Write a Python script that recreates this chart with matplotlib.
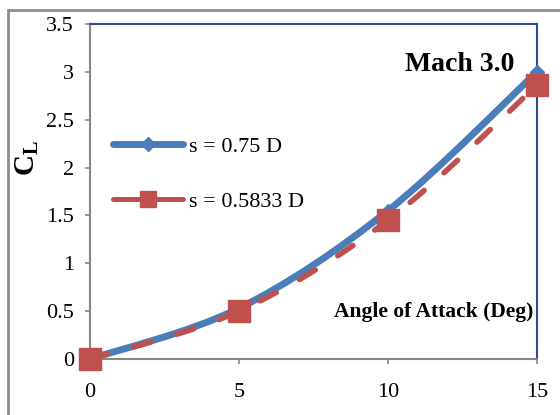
import matplotlib.pyplot as plt
from matplotlib.path import Path
from matplotlib.patches import PathPatch, Rectangle
from matplotlib.lines import Line2D

# Coeficiente de sustentación vs ángulo de ataque (Mach 3.0)
angulos = [0, 5, 10, 15]
cl_075 = [0.0, 0.53, 1.55, 3.0]
cl_05833 = [0.0, 0.5, 1.45, 2.86]

azul = '#4a7ebb'
rojo = '#c0504d'
gris = '#868686'
plt.rcParams['font.family'] = ['Liberation Serif', 'DejaVu Serif']


# Curva suavizada tipo Excel (Bezier por tramos)
def curva_suave(xs, ys):
    pts = list(zip(xs, ys))
    n = len(pts)
    verts = [pts[0]]
    codes = [Path.MOVETO]
    for i in range(n - 1):
        p0 = pts[max(i - 1, 0)]
        p1 = pts[i]
        p2 = pts[i + 1]
        p3 = pts[min(i + 2, n - 1)]
        c1 = (p1[0] + (p2[0] - p0[0]) / 6, p1[1] + (p2[1] - p0[1]) / 6)
        c2 = (p2[0] - (p3[0] - p1[0]) / 6, p2[1] - (p3[1] - p1[1]) / 6)
        verts += [c1, c2, p2]
        codes += [Path.CURVE4] * 3
    return Path(verts, codes)


fig = plt.figure(figsize=(5.6, 4.15), dpi=100)
fig.patches.append(Rectangle((8 / 560, -0.1), 1.1, (415 - 10) / 415 + 0.1,
                             transform=fig.transFigure, fill=False,
                             edgecolor='#8c8c8c', linewidth=2))
ax = fig.add_axes([90 / 560, 56 / 415, 447 / 560, 335 / 415])

ax.add_patch(PathPatch(curva_suave(angulos, cl_075), fill=False, edgecolor=azul,
                       linewidth=5, capstyle='round', zorder=2))
ax.plot(angulos, cl_075, linestyle='none', marker='D', markersize=7,
        color=azul, clip_on=False, zorder=3)

ax.add_patch(PathPatch(curva_suave(angulos, cl_05833), fill=False, edgecolor=rojo,
                       linewidth=4, linestyle=(0, (3.3, 4.8)), capstyle='round',
                       zorder=4))
ax.plot(angulos, cl_05833, linestyle='none', marker='s', markersize=16.5,
        color=rojo, clip_on=False, zorder=5)

ax.set_xlim(0, 15)
ax.set_ylim(0, 3.5)
ax.set_xticks([0, 5, 10, 15])
ax.set_yticks([0, 0.5, 1, 1.5, 2, 2.5, 3, 3.5])
ax.set_yticklabels(['0', '0.5', '1', '1.5', '2', '2.5', '3', '3.5'])
ax.tick_params(direction='out', length=3.6, width=1.2, color=gris, labelsize=16)
ax.tick_params(axis='y', pad=8)
ax.tick_params(axis='x', pad=14)

for lado in ['left', 'bottom']:
    ax.spines[lado].set_color(gris)
    ax.spines[lado].set_linewidth(1.5)
for lado in ['top', 'right']:
    ax.spines[lado].set_color('#2a4f8a')
    ax.spines[lado].set_linewidth(1.5)

fig.text(27 / 560, 1 - 158 / 415, r'C$_\mathregular{L}$', rotation=90,
         fontsize=21, fontweight='bold', ha='center', va='center')
ax.text(0.826, 0.88, 'Mach 3.0', transform=ax.transAxes, fontsize=20,
        fontweight='bold', ha='center', va='center')
ax.text(0.991, 0.14, 'Angle of Attack (Deg)', transform=ax.transAxes,
        fontsize=15.5, fontweight='bold', ha='right', va='center')

manejadores = [
    Line2D([], [], color=azul, linewidth=5, marker='D', markersize=7,
           solid_capstyle='round'),
    Line2D([], [], color=rojo, linewidth=3.6, linestyle=(0, (5.4, 3.2)),
           marker='s', markersize=11, dash_capstyle='round'),
]
ax.legend(manejadores, ['s = 0.75 D', 's = 0.5833 D'], loc='upper left',
          bbox_to_anchor=(0.051, 0.664), frameon=False, fontsize=16,
          handlelength=3.15, handletextpad=0.3, labelspacing=1.53,
          borderpad=0, borderaxespad=0)

fig.savefig('out.png', dpi=100)
